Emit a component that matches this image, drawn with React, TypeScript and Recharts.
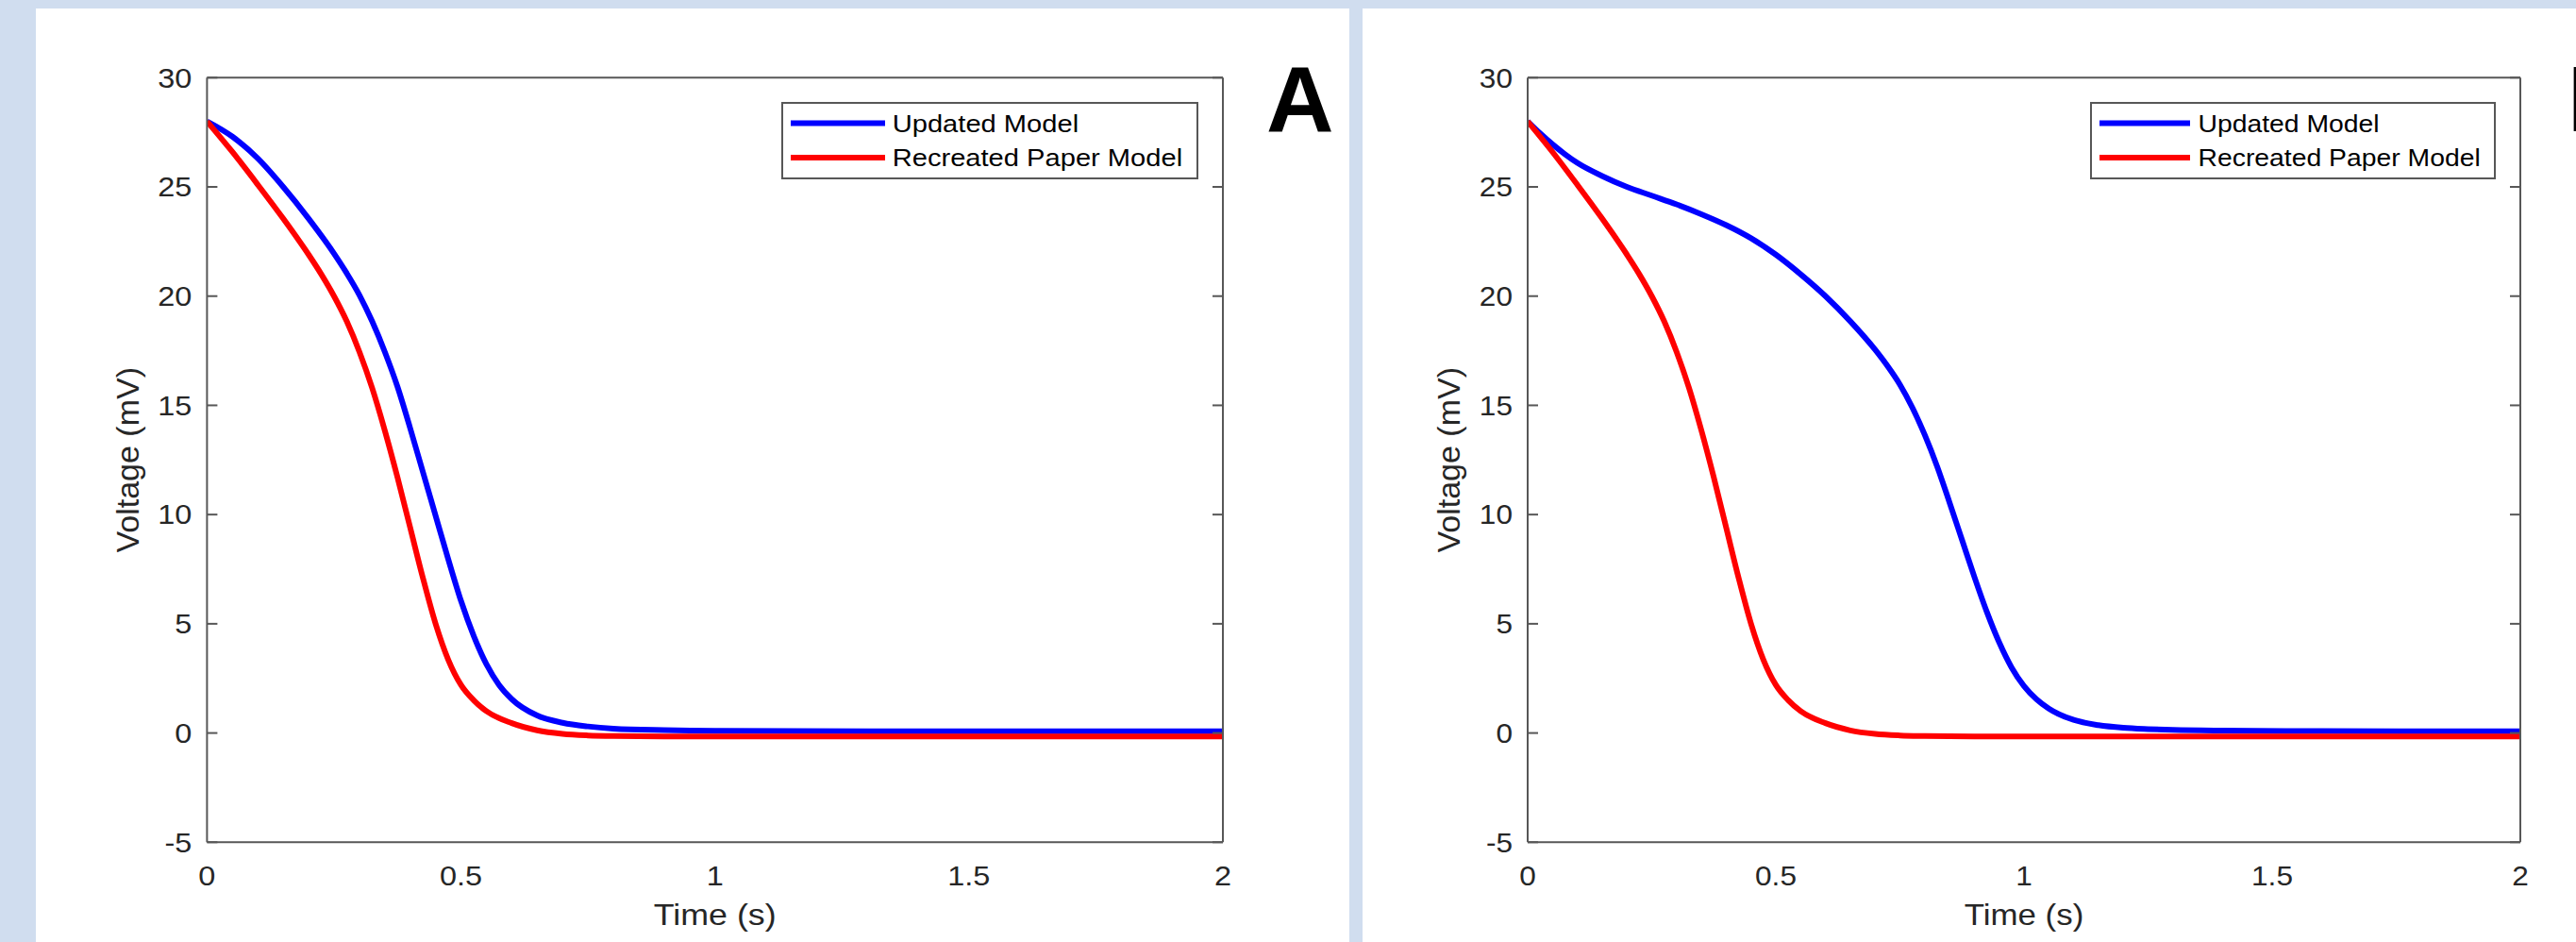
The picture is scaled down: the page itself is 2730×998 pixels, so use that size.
import React from 'react';
import { LineChart, Line, XAxis, YAxis, Legend, Label } from 'recharts';

// Recreated paper model: time (s) and membrane voltage (mV), identical in both panels
const paperTime = [
  0, 0.05, 0.1, 0.15, 0.2, 0.225, 0.25, 0.275, 0.3, 0.325, 0.35, 0.375, 0.4, 0.425, 0.45,
  0.475, 0.5, 0.525, 0.55, 0.6, 0.65, 0.7, 0.75, 0.8, 0.9, 1.0, 1.5, 2.0,
];
const paperVoltage = [
  28.0, 26.6, 25.1, 23.55, 21.9, 21.0, 20.0, 18.85, 17.45, 15.8, 13.85, 11.7, 9.4, 7.1, 5.0,
  3.35, 2.2, 1.5, 1.0, 0.45, 0.12, -0.04, -0.11, -0.14, -0.16, -0.16, -0.16, -0.16,
];

// Panel A: updated model
const updatedTimeA = [
  0, 0.05, 0.1, 0.15, 0.2, 0.25, 0.275, 0.3, 0.325, 0.35, 0.375, 0.4, 0.425, 0.45, 0.475,
  0.5, 0.525, 0.55, 0.575, 0.6, 0.65, 0.7, 0.75, 0.8, 0.9, 1.0, 1.5, 2.0,
];
const updatedVoltageA = [
  28.0, 27.3, 26.3, 25.0, 23.55, 21.95, 21.05, 20.05, 18.85, 17.45, 15.85, 13.95, 11.95, 9.95, 7.95,
  6.05, 4.45, 3.15, 2.2, 1.55, 0.8, 0.47, 0.3, 0.2, 0.13, 0.1, 0.08, 0.08,
];

// Panel B: updated model
const updatedTimeB = [
  0, 0.025, 0.05, 0.075, 0.1, 0.15, 0.2, 0.25, 0.3, 0.35, 0.4, 0.45, 0.5, 0.55, 0.6, 0.65,
  0.7, 0.725, 0.75, 0.775, 0.8, 0.825, 0.85, 0.875, 0.9, 0.925, 0.95, 0.975, 1.0, 1.025,
  1.05, 1.1, 1.15, 1.2, 1.25, 1.3, 1.4, 1.6, 2.0,
];
const updatedVoltageB = [
  28.0, 27.45, 26.95, 26.5, 26.1, 25.5, 25.0, 24.6, 24.2, 23.75, 23.25, 22.65, 21.9, 21.0,
  20.0, 18.85, 17.55, 16.8, 15.95, 14.9, 13.65, 12.2, 10.55, 8.85, 7.15, 5.55, 4.15, 3.0, 2.15,
  1.55, 1.12, 0.6, 0.36, 0.24, 0.18, 0.14, 0.11, 0.09, 0.08,
];

const xTicks = [0, 0.5, 1, 1.5, 2];
const yTicks = [-5, 0, 5, 10, 15, 20, 25, 30];
const seriesNames = ['Updated Model', 'Recreated Paper Model'];
const seriesColors = ['#0000FF', '#FF0000'];
const panelLetters = ['A', 'B'];

const FONT = '"Liberation Sans", Arial, Helvetica, sans-serif';
const AXIS_COLOR = '#575757';
const TEXT_COLOR = '#262626';
const LINE_W = 6;

const toPoints = (time: number[], volts: number[]) => time.map((t, i) => ({ t, v: volts[i] }));

const XTick = (props: any) => {
  const { x, y, payload, sx } = props;
  return (
    <g transform={`translate(${x},${y}) scale(${sx},1)`}>
      <text x={0} y={0} dy="0.71em" textAnchor="middle" fontSize={29} fill={TEXT_COLOR} fontFamily={FONT}>
        {payload.value}
      </text>
    </g>
  );
};

const YTick = (props: any) => {
  const { x, y, payload, sx } = props;
  return (
    <g transform={`translate(${x},${y}) scale(${sx},1)`}>
      <text x={0} y={0} dy="0.355em" textAnchor="end" fontSize={29} fill={TEXT_COLOR} fontFamily={FONT}>
        {payload.value}
      </text>
    </g>
  );
};

// tick marks only, no label
const BlankTick = () => <g />;

const LegendBox = (props: any) => {
  const { payload, sx, boxWidth, lineLen, textX } = props;
  const h = 82;
  const items = [...(payload || [])].sort(
    (a: any, b: any) => seriesNames.indexOf(a.value) - seriesNames.indexOf(b.value),
  );
  return (
    <svg width={boxWidth} height={h} style={{ display: 'block' }}>
      <rect x={1} y={1} width={boxWidth - 2} height={h - 2} fill="#fff" stroke={AXIS_COLOR} strokeWidth={2} />
      {items.map((p: any, i: number) => {
        const cy = 22.6 + 36.4 * i;
        return (
          <g key={p.value}>
            <line x1={10} x2={10 + lineLen} y1={cy} y2={cy} stroke={p.color} strokeWidth={LINE_W} />
            <g transform={`translate(${textX},${cy + 9.3}) scale(${sx},1)`}>
              <text x={0} y={0} fontSize={26} fill="#000" fontFamily={FONT}>
                {p.value}
              </text>
            </g>
          </g>
        );
      })}
    </svg>
  );
};

type PanelProps = {
  left: number;
  width: number;
  plotLeft: number;
  plotRight: number;
  sx: number;
  legendLeft: number;
  legendWidth: number;
  lineLen: number;
  textX: number;
  updatedTime: number[];
  updatedVoltage: number[];
};

const PANEL_TOP = 9;
const PANEL_HEIGHT = 989;
const PLOT_TOP = 73.3;
const PLOT_BOTTOM = 883.3;
const X_AXIS_H = 100;
const Y_AXIS_W = 150;

const Panel = (p: PanelProps) => {
  const updatedPts = toPoints(p.updatedTime, p.updatedVoltage);
  const paperPts = toPoints(paperTime, paperVoltage);
  const margin = {
    top: PLOT_TOP,
    right: p.width - p.plotRight,
    bottom: PANEL_HEIGHT - PLOT_BOTTOM - X_AXIS_H,
    left: p.plotLeft - Y_AXIS_W,
  };
  const axisLine = { stroke: AXIS_COLOR, strokeWidth: 2 };
  const tickLine = { stroke: AXIS_COLOR, strokeWidth: 2 };
  return (
    <div style={{ position: 'absolute', left: p.left, top: PANEL_TOP, width: p.width, height: PANEL_HEIGHT, background: '#fff' }}>
      <LineChart width={p.width} height={PANEL_HEIGHT} margin={margin}>
        <XAxis
          xAxisId="x"
          dataKey="t"
          type="number"
          domain={[0, 2]}
          ticks={xTicks}
          interval={0}
          allowDataOverflow
          height={X_AXIS_H}
          axisLine={axisLine}
          tickLine={false}
          tickSize={0}
          tickMargin={24.7}
          tick={<XTick sx={p.sx} />}
        >
          <Label
            content={(lp: any) => {
              const vb = lp.viewBox;
              const cx = vb.x + vb.width / 2;
              const by = vb.y + 87.6;
              return (
                <g transform={`translate(${cx},${by}) scale(${p.sx},1)`}>
                  <text x={0} y={0} textAnchor="middle" fontSize={32} fill={TEXT_COLOR} fontFamily={FONT}>
                    Time (s)
                  </text>
                </g>
              );
            }}
          />
        </XAxis>
        {/* box edges with inward ticks on all four sides */}
        <XAxis
          xAxisId="xTop"
          orientation="top"
          type="number"
          domain={[0, 2]}
          ticks={xTicks}
          interval={0}
          allowDataOverflow
          mirror
          height={1}
          axisLine={axisLine}
          tickLine={tickLine}
          tickSize={11}
          tick={BlankTick}
        />
        <XAxis
          xAxisId="xIn"
          orientation="bottom"
          type="number"
          domain={[0, 2]}
          ticks={xTicks}
          interval={0}
          allowDataOverflow
          mirror
          height={1}
          axisLine={false}
          tickLine={tickLine}
          tickSize={11}
          tick={BlankTick}
        />
        <YAxis
          yAxisId="y"
          type="number"
          domain={[-5, 30]}
          ticks={yTicks}
          interval={0}
          allowDataOverflow
          width={Y_AXIS_W}
          axisLine={axisLine}
          tickLine={false}
          tickSize={0}
          tickMargin={16}
          tick={<YTick sx={p.sx} />}
        >
          <Label
            content={(lp: any) => {
              const vb = lp.viewBox;
              const bx = vb.x + vb.width - 72;
              const cy = vb.y + vb.height / 2;
              return (
                <text
                  x={bx}
                  y={cy}
                  transform={`rotate(-90 ${bx} ${cy})`}
                  textAnchor="middle"
                  fontSize={34}
                  fill={TEXT_COLOR}
                  fontFamily={FONT}
                >
                  Voltage (mV)
                </text>
              );
            }}
          />
        </YAxis>
        <YAxis
          yAxisId="yIn"
          type="number"
          domain={[-5, 30]}
          ticks={yTicks}
          interval={0}
          allowDataOverflow
          mirror
          width={1}
          axisLine={false}
          tickLine={tickLine}
          tickSize={11}
          tick={BlankTick}
        />
        <YAxis
          yAxisId="yRight"
          orientation="right"
          type="number"
          domain={[-5, 30]}
          ticks={yTicks}
          interval={0}
          allowDataOverflow
          mirror
          width={1}
          axisLine={axisLine}
          tickLine={tickLine}
          tickSize={11}
          tick={BlankTick}
        />
        <Legend
          layout="horizontal"
          verticalAlign="middle"
          align="center"
          wrapperStyle={{ left: p.legendLeft, top: 98.7, width: p.legendWidth, height: 82 }}
          content={<LegendBox sx={p.sx} boxWidth={p.legendWidth} lineLen={p.lineLen} textX={p.textX} />}
        />
        <Line
          xAxisId="x"
          yAxisId="y"
          data={updatedPts}
          type="monotone"
          dataKey="v"
          name={seriesNames[0]}
          stroke={seriesColors[0]}
          strokeWidth={LINE_W}
          dot={false}
          isAnimationActive={false}
        />
        <Line
          xAxisId="x"
          yAxisId="y"
          data={paperPts}
          type="monotone"
          dataKey="v"
          name={seriesNames[1]}
          stroke={seriesColors[1]}
          strokeWidth={LINE_W}
          dot={false}
          isAnimationActive={false}
        />
      </LineChart>
    </div>
  );
};

export default function App() {
  return (
    <div style={{ position: 'fixed', left: 0, top: 0, width: 2730, height: 998, background: '#D0DDEF', overflow: 'hidden' }}>
      <Panel
        left={38}
        width={1392}
        plotLeft={181.4}
        plotRight={1258}
        sx={1.12}
        legendLeft={790.3}
        legendWidth={442}
        lineLen={100}
        textX={117.7}
        updatedTime={updatedTimeA}
        updatedVoltage={updatedVoltageA}
      />
      <Panel
        left={1444}
        width={1286}
        plotLeft={175}
        plotRight={1227}
        sx={1.09}
        legendLeft={770.5}
        legendWidth={430}
        lineLen={96}
        textX={114.5}
        updatedTime={updatedTimeB}
        updatedVoltage={updatedVoltageB}
      />
      <svg width={2730} height={998} style={{ position: 'absolute', left: 0, top: 0, pointerEvents: 'none' }}>
        <text x={1342} y={139} fontSize={99} fontWeight={700} fill="#000" fontFamily={FONT}>
          {panelLetters[0]}
        </text>
        <text x={2721} y={139} fontSize={99} fontWeight={700} fill="#000" fontFamily={FONT}>
          {panelLetters[1]}
        </text>
      </svg>
    </div>
  );
}
